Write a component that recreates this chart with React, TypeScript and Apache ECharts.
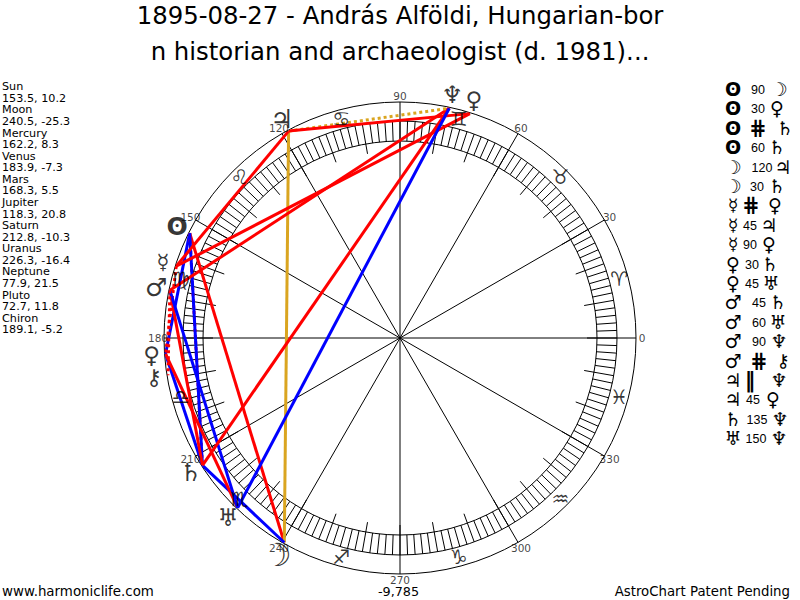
import React, { useEffect, useRef } from "react";
import * as echarts from "echarts";

const titleLines = ["1895-08-27 - András Alföldi, Hungarian-bor", "n historian and archaeologist (d. 1981)..."];
const planetNames = ["Sun", "Moon", "Mercury", "Venus", "Mars", "Jupiter", "Saturn", "Uranus", "Neptune", "Pluto", "Chiron"];
const longitudes = [153.5, 240.5, 162.2, 183.9, 168.3, 118.3, 212.8, 226.3, 77.9, 72.7, 189.1];
const latitudes = [10.2, -25.3, 8.3, -7.3, 5.5, 20.8, -10.3, -16.4, 21.5, 11.8, -5.2];
const planetGlyphs = ["ʘ", "☽", "☿", "♀", "♂", "♃", "♄", "♅", "♆", "♀", "⚷"];
const signGlyphs = ["♈", "♉", "♊", "♋", "♌", "♍", "♎", "♏", "♐", "♑", "♒", "♓"];
const signAngles = [15, 45, 75, 105, 135, 165, 195, 225, 255, 285, 315, 345];
const degreeLabels = [0, 30, 60, 90, 120, 150, 180, 210, 240, 270, 300, 330];
const aspectFrom = ["Sun", "Sun", "Sun", "Sun", "Moon", "Moon", "Mercury", "Mercury", "Mercury", "Venus", "Venus", "Mars", "Mars", "Mars", "Mars", "Jupiter", "Jupiter", "Saturn", "Uranus"];
const aspectLabel = ["90", "30", "#", "60", "120", "30", "#", "45", "90", "30", "45", "45", "60", "90", "#", "||", "45", "135", "150"];
const aspectTo = ["Moon", "Venus", "Saturn", "Saturn", "Jupiter", "Saturn", "Venus", "Jupiter", "Pluto", "Saturn", "Uranus", "Saturn", "Uranus", "Neptune", "Chiron", "Neptune", "Pluto", "Neptune", "Neptune"];
const footerLeft = "www.harmoniclife.com";
const footerMid = "-9,785";
const footerRight = "AstroChart Patent Pending";

const FONT = "'DejaVu Sans'";
const CENTER = [400, 338];
const OUTER = 236;
const POINT_R = 235;
const RED = "#ff0000";
const BLUE = "#0000ff";
const GOLD = "#daa520";
const aspectStyle: Record<string, { color: string; type: string }> = {
  "30": { color: BLUE, type: "solid" },
  "60": { color: BLUE, type: "solid" },
  "150": { color: BLUE, type: "solid" },
  "45": { color: RED, type: "solid" },
  "90": { color: RED, type: "solid" },
  "135": { color: RED, type: "solid" },
  "120": { color: GOLD, type: "solid" },
  "#": { color: RED, type: "dotted" },
  "||": { color: GOLD, type: "dotted" },
};
const legendLabelX = [758, 758, 758, 758, 762, 757, 751, 750, 750, 752, 752, 759, 759, 759, 759, 750, 753, 757, 756];
const legendGlyphX = [779, 777, 785, 777, 783, 777, 775, 769, 769, 770, 771, 778, 778, 779, 783, 779, 773, 780, 779];
const glyphSizes = [25, 32, 21, 23, 25, 26, 25, 24, 24, 23, 22];
const legendGlyphSizes = [19, 19, 17, 19, 19, 19, 19, 19, 19, 19, 18];
const glyphWeights = ["bold", "normal", "normal", "normal", "normal", "normal", "normal", "normal", "normal", "normal", "normal"];
const legendWeights = ["bold", "bold", "normal", "normal", "normal", "normal", "normal", "normal", "normal", "normal", "normal"];

const idx = (name: string) => planetNames.indexOf(name);
const lonOf = (name: string) => longitudes[idx(name)];

const ring = (i: number, interval: number, line: boolean) => ({
  polarIndex: i,
  type: "value",
  min: 0,
  max: 360,
  interval,
  startAngle: 0,
  clockwise: false,
  axisLine: { show: line, lineStyle: { color: "#000", width: 1 } },
  axisTick: { show: false },
  axisLabel: { show: false },
  splitLine: { show: true, lineStyle: { color: "#000", width: 1 } },
});
const radial = (i: number) => ({
  polarIndex: i,
  type: "value",
  min: 0,
  max: 1,
  show: false,
  axisLine: { show: false },
  axisTick: { show: false },
  axisLabel: { show: false },
  splitLine: { show: false },
});

const textSeries = (data: any[], fontSize: number, color = "#000") => ({
  type: "scatter",
  coordinateSystem: "polar",
  polarIndex: 0,
  clip: false,
  silent: true,
  symbol: "circle",
  symbolSize: 1,
  itemStyle: { color: "transparent" },
  z: 5,
  label: { show: true, position: "inside", align: "center", verticalAlign: "middle", fontFamily: FONT, fontSize, color, formatter: (p: any) => p.name },
  data,
});

export default function App() {
  const ref = useRef<HTMLDivElement>(null);
  useEffect(() => {
    const chart = echarts.init(ref.current!, undefined, { renderer: "svg" });
    const leftLines: string[] = [];
    planetNames.forEach((n, i) => {
      leftLines.push(n);
      leftLines.push(`${longitudes[i].toFixed(1)}, ${latitudes[i].toFixed(1)}`);
    });
    const graphic: any[] = [];
    const t = (text: string, x: number, y: number, fontSize: number, align = "left", extra: any = {}) =>
      graphic.push({ type: "text", x, y, style: { text, fontFamily: FONT, fontSize, fill: "#000", align, verticalAlign: "middle", ...extra } });
    const legendGlyph = (name: string, x: number, y: number) =>
      t(planetGlyphs[idx(name)], x, y, legendGlyphSizes[idx(name)], "center", { fontWeight: legendWeights[idx(name)] });
    graphic.push({
      type: "text",
      x: 2,
      y: 81,
      style: { text: leftLines.join("\n"), fontFamily: FONT, fontSize: 11.2, lineHeight: 11.57, fill: "#000", align: "left", verticalAlign: "top" },
    });
    aspectFrom.forEach((from, i) => {
      const y = 89 + i * 19.4;
      const label = aspectLabel[i];
      legendGlyph(from, 733, y);
      if (label === "#") t("⋕", legendLabelX[i], y, 21, "center", { fontWeight: "bold" });
      else if (label === "||") t("‖", legendLabelX[i], y, 21, "center", { fontWeight: "bold" });
      else t(label, legendLabelX[i], y + 1, 12.5, "center", { fontFamily: "'Liberation Sans'" });
      legendGlyph(aspectTo[i], legendGlyphX[i], y);
    });
    t(footerLeft, 2, 591, 13.4);
    t(footerMid, 398.5, 591, 12.8, "center");
    t(footerRight, 790, 591, 13.3, "right");

    const aspectSeries = aspectFrom.map((from, i) => {
      const st = aspectStyle[aspectLabel[i]];
      return {
        type: "line",
        coordinateSystem: "polar",
        polarIndex: 0,
        showSymbol: false,
        clip: false,
        silent: true,
        z: 3,
        lineStyle: { color: st.color, type: st.type, width: 3 },
        data: [[POINT_R, lonOf(from)], [POINT_R, lonOf(aspectTo[i])]],
      };
    });

    chart.setOption({
      animation: false,
      backgroundColor: "#fff",
      title: {
        text: titleLines.join("\n"),
        left: "center",
        top: -3,
        padding: 0,
        textStyle: { fontFamily: FONT, fontSize: 24.4, fontWeight: "normal", color: "#000", lineHeight: 36 },
      },
      polar: [
        { center: CENTER, radius: OUTER },
        { center: CENTER, radius: [197, 217] },
        { center: CENTER, radius: [187, 197] },
      ],
      angleAxis: [ring(0, 30, true), ring(1, 2, true), ring(2, 10, false)],
      radiusAxis: [{ ...radial(0), max: OUTER }, radial(1), radial(2)],
      graphic,
      series: [
        ...aspectSeries,
        textSeries(degreeLabels.map((d) => ({ name: String(d), value: [242, d] })), 10.5, "#111"),
        textSeries(signGlyphs.map((g, i) => ({ name: g, value: [227, signAngles[i]] })), 20),
        textSeries(
          planetGlyphs.map((g, i) => ({
            name: g,
            value: [249, longitudes[i]],
            label: { fontSize: glyphSizes[i], fontWeight: glyphWeights[i] },
          })),
          20
        ),
      ],
    });
    return () => chart.dispose();
  }, []);
  return <div ref={ref} style={{ position: "fixed", left: 0, top: 0, width: 800, height: 600 }} />;
}
